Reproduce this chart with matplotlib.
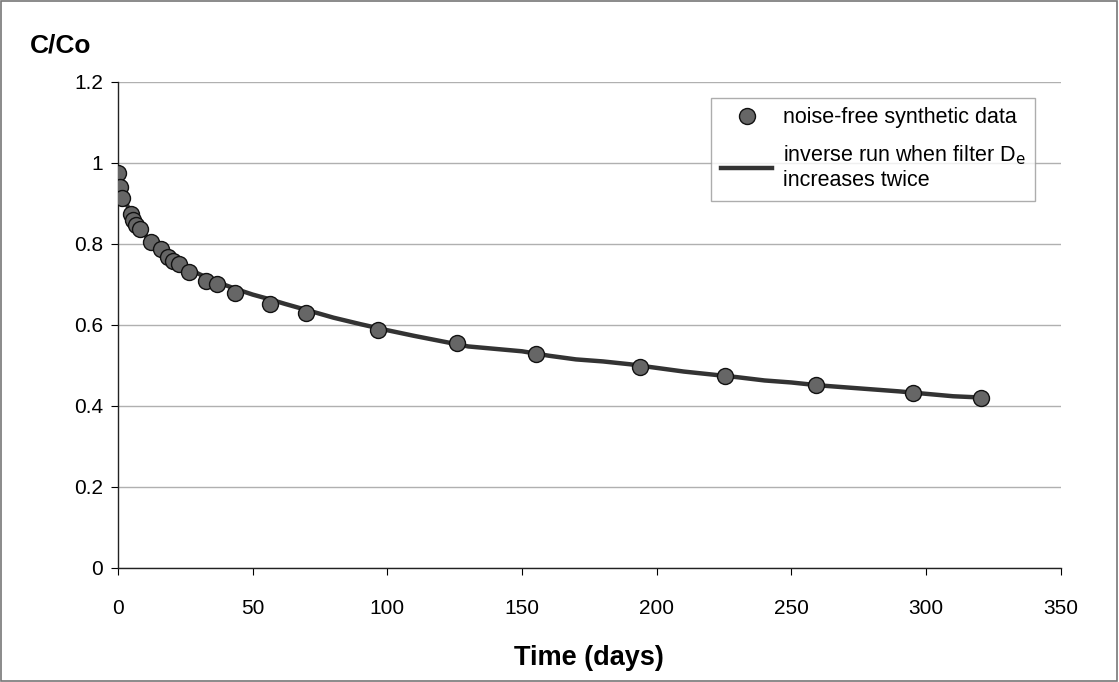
import matplotlib.pyplot as plt
from matplotlib.patches import Rectangle

# synthetic data points (days, C/Co)
days = [0, 0.7, 1.4, 4.7, 5.7, 6.7, 8.2, 12.2, 15.9, 18.4, 20.5, 22.5, 26.5,
        32.7, 36.6, 43.4, 56.5, 69.7, 96.6, 125.7, 155.0, 193.8, 225.3,
        259.1, 295.2, 320.3]
conc = [0.976, 0.940, 0.913, 0.874, 0.858, 0.847, 0.836, 0.804, 0.787, 0.767,
        0.759, 0.750, 0.732, 0.709, 0.700, 0.678, 0.652, 0.630, 0.588, 0.556,
        0.528, 0.496, 0.474, 0.452, 0.433, 0.419]

# inverse run curve
run_days = [0, 1, 2, 4, 6, 8, 10, 13, 16, 20, 25, 30, 35, 40, 45, 50, 56, 62,
            70, 80, 90, 100, 110, 120, 130, 140, 150, 160, 170, 180, 190, 200,
            210, 220, 230, 240, 250, 260, 270, 280, 290, 300, 310, 320]
run_conc = [0.972, 0.945, 0.920, 0.885, 0.857, 0.838, 0.822, 0.803, 0.786,
            0.765, 0.743, 0.726, 0.711, 0.698, 0.686, 0.675, 0.664, 0.652,
            0.637, 0.618, 0.602, 0.587, 0.573, 0.560, 0.547, 0.541, 0.535,
            0.524, 0.515, 0.510, 0.503, 0.494, 0.485, 0.478, 0.471, 0.463,
            0.458, 0.451, 0.446, 0.441, 0.436, 0.430, 0.424, 0.421]

plt.rcParams['font.family'] = ['Liberation Sans', 'DejaVu Sans']

fig = plt.figure(figsize=(11.19, 6.82), dpi=100)
ax = fig.add_axes([0.1055, 0.1672, 0.8425, 0.7126])

ax.plot(run_days, run_conc, color='#333333', lw=3.2, zorder=2,
        label='inverse run when filter D$_\\mathrm{e}$\nincreases twice')
ax.plot(days, conc, 'o', ms=11.5, mfc='#666666', mec='#111111', mew=1.0,
        zorder=3, label='noise-free synthetic data')

ax.set_xlim(0, 350)
ax.set_ylim(0, 1.2)
ax.set_xticks(range(0, 351, 50))
ax.set_yticks([0, 0.2, 0.4, 0.6, 0.8, 1, 1.2])
ax.set_yticklabels(['0', '0.2', '0.4', '0.6', '0.8', '1', '1.2'])
ax.yaxis.grid(True, color='#b0b0b0', lw=1)
ax.set_axisbelow(True)
for s in ['top', 'right']:
    ax.spines[s].set_visible(False)
for s in ['left', 'bottom']:
    ax.spines[s].set_color('#222222')
    ax.spines[s].set_linewidth(1)
ax.tick_params(labelsize=15, length=5, direction='out')
ax.tick_params(axis='x', pad=17)
ax.tick_params(axis='y', pad=6)

ax.set_xlabel('Time (days)', fontsize=19.5, fontweight='bold', labelpad=20)
fig.text(0.027, 0.933, 'C/Co', fontsize=19, fontweight='bold', ha='left', va='center')

h, l = ax.get_legend_handles_labels()
leg = ax.legend(h[::-1], l[::-1], loc='upper right', bbox_to_anchor=(0.9845, 0.99),
                fontsize=15.5, frameon=True, fancybox=False, edgecolor='#999999',
                handlelength=2.4, handletextpad=0.5, borderpad=0.45, labelspacing=0.7)
leg.get_frame().set_linewidth(1)

fig.patches.append(Rectangle((0.001, 0.001), 0.997, 0.997, transform=fig.transFigure,
                             fill=False, edgecolor='#777777', lw=1.2))

fig.savefig('out.png', dpi=100)
